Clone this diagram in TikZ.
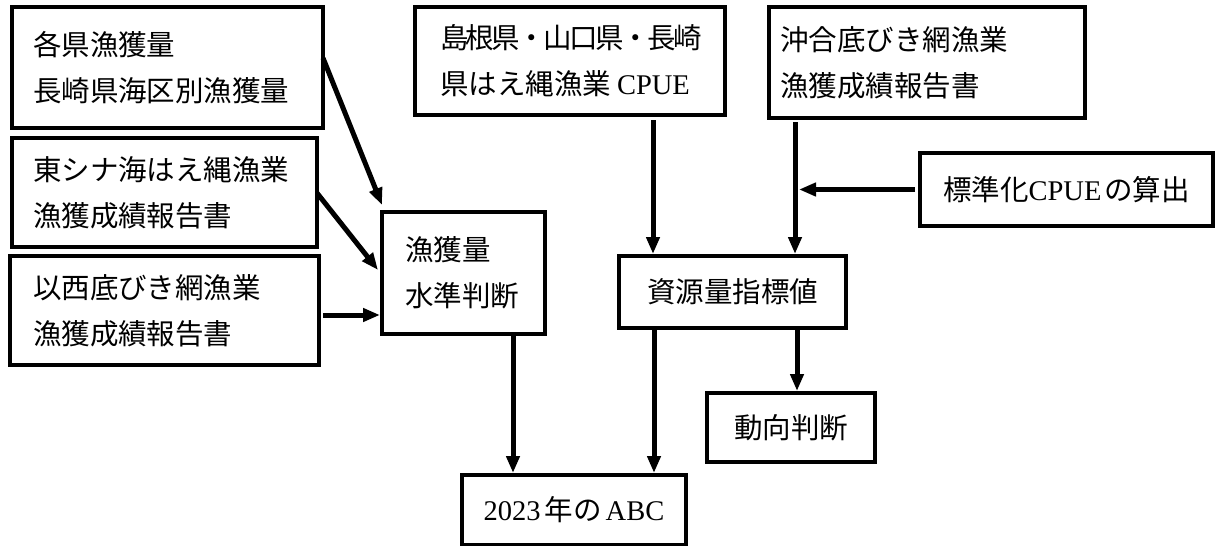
\documentclass[tikz,border=0pt]{standalone}
\usepackage{fontspec}
\setmainfont{Liberation Serif}
\newfontfamily\jpfont{Noto Sans CJK JP}
\newcommand{\jt}[1]{{\jpfont #1}}
\newcommand{\tk}{\kern-2.6pt}
\usetikzlibrary{arrows.meta,calc}
\begin{document}
\begin{tikzpicture}[x=1pt,y=1pt,
  box/.style={draw, line width=4pt, outer sep=0pt, inner sep=0pt,
    font=\fontsize{28.5}{46}\selectfont, anchor=north west},
  lbox/.style={box, align=left},
  cbox/.style={box, align=center},
  arr/.style={line width=5pt, -{Triangle[length=17pt,width=13pt]}}]
\useasboundingbox (0,0) rectangle (1216,-546);
\fill[white] (0,0) rectangle (1216,-546);

\node[lbox, minimum width=311pt, minimum height=121pt, text width=269pt] (kaku) at (12,-7)
  {\jt{各県漁獲量}\\\jt{長崎県海区別漁獲量}};
\node[lbox, minimum width=305pt, minimum height=109pt, text width=263pt] (higashi) at (12,-138)
  {\jt{東シナ海はえ縄漁業}\\\jt{漁獲成績報告書}};
\node[lbox, minimum width=309pt, minimum height=109pt, text width=263pt] (isei) at (10,-256)
  {\jt{以西底びき網漁業}\\\jt{漁獲成績報告書}};
\node[lbox, minimum width=163pt, minimum height=122pt, text width=117pt] (gyokaku) at (382,-212)
  {\jt{漁獲量}\\\jt{水準判断}};
\node[lbox, minimum width=310pt, minimum height=108pt, text width=260pt] (shimane) at (415,-7)
  {\jt{島\tk 根\tk 県\tk ・\tk 山\tk 口\tk 県\tk ・\tk 長\tk 崎}\\\jt{県はえ縄漁業}\hspace{6pt}CPUE};
\node[lbox, minimum width=316pt, minimum height=111pt, text width=294pt] (okiai) at (769,-7)
  {\jt{沖合底びき網漁業}\\\jt{漁獲成績報告書}};
\node[cbox, minimum width=293pt, minimum height=73pt] (hyoujun) at (920,-153)
  {\jt{標準化}CPUE\hspace{3pt}\jt{の算出}};
\node[cbox, minimum width=227pt, minimum height=72pt] (shigen) at (619,-256)
  {\jt{資源量指標値}};
\node[cbox, minimum width=168pt, minimum height=69pt] (doukou) at (707,-393)
  {\jt{動向判断}};
\node[cbox, minimum width=224pt, minimum height=70pt] (abc) at (462,-475)
  {2023\hspace{4pt}\jt{年の}\hspace{4pt}ABC};

\draw[arr] ([yshift=-51pt]kaku.north east) -- ([yshift=7pt]gyokaku.north west);
\draw[arr] ([yshift=-55pt]higashi.north east) -- ([xshift=-4pt,yshift=-58pt]gyokaku.north west);
\draw[arr] ($(isei.north east)+(4,-59)$) -- ($(isei.north east -| gyokaku.west)+(-2,-59)$);
\draw[arr] ($(shimane.south west)+(238,-5)$) -- ($(shimane.south west |- shigen.north)+(238,2)$);
\draw[arr] ($(okiai.south west)+(26,-4)$) -- ($(okiai.south west |- shigen.north)+(26,2)$);
\draw[arr] ([xshift=-5pt]hyoujun.west) -- ($(okiai.south west |- hyoujun.west)+(30,0)$);
\draw[arr] ($(gyokaku.south west)+(131,0)$) -- ($(gyokaku.south west |- abc.north)+(131,2)$);
\draw[arr] ($(shigen.south west)+(35,-2)$) -- ($(shigen.south west |- abc.north)+(35,2)$);
\draw[arr] ($(shigen.south west)+(178,-2)$) -- ($(shigen.south west |- doukou.north)+(178,2)$);
\end{tikzpicture}
\end{document}
